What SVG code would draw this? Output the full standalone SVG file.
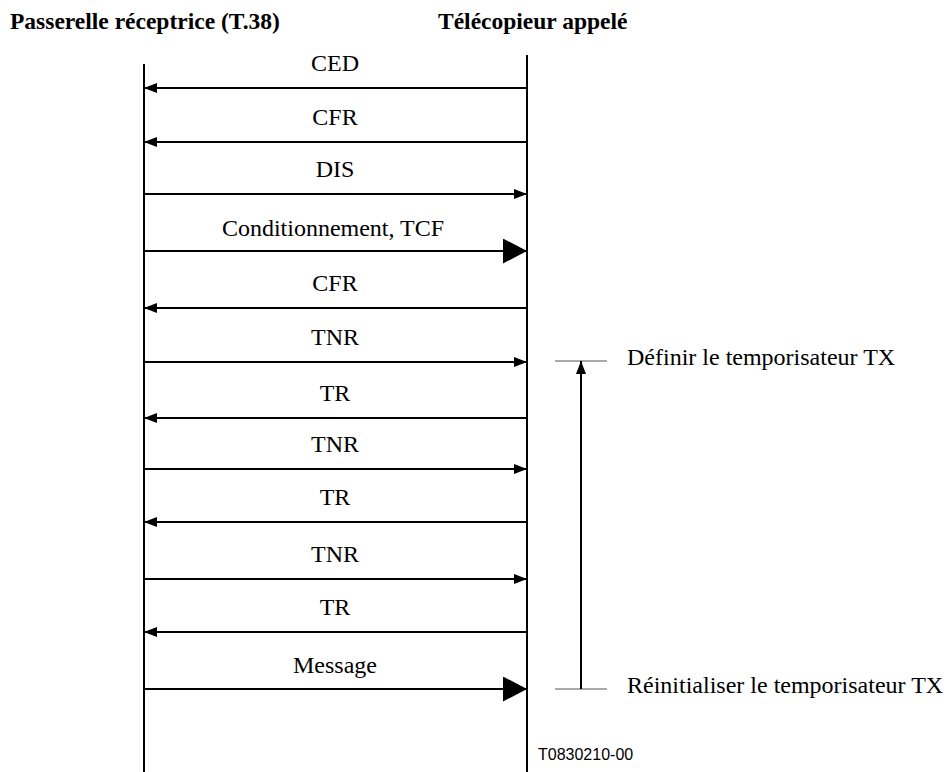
<svg xmlns="http://www.w3.org/2000/svg" width="948" height="772" viewBox="0 0 948 772">
<style>
  .hdr { font-family: "Liberation Serif", "Times New Roman", serif; font-weight: bold; font-size: 23.5px; fill: #000; }
  .lbl { font-family: "Liberation Serif", "Times New Roman", serif; font-size: 24px; fill: #000; text-anchor: middle; }
  .note { font-family: "Liberation Serif", "Times New Roman", serif; font-size: 24px; fill: #000; }
  .ref { font-family: "Liberation Sans", Arial, sans-serif; font-size: 16px; fill: #000; }
  .life { stroke: #000; stroke-width: 2; fill: none; }
  .msg { stroke: #000; stroke-width: 2; fill: none; }
  .tick { stroke: #555; stroke-width: 1.2; fill: none; }
</style>
<defs>
  <marker id="sm" markerUnits="userSpaceOnUse" markerWidth="13" markerHeight="10" refX="13" refY="5" orient="auto">
    <path d="M0,0 L13,5 L0,10 z" fill="#000"/>
  </marker>
  <marker id="big" markerUnits="userSpaceOnUse" markerWidth="24" markerHeight="25" refX="24" refY="12.5" orient="auto">
    <path d="M0,0 L24,12.5 L0,25 z" fill="#000"/>
  </marker>
</defs>
<rect width="948" height="772" fill="#fff"/>
<g id="gateway">
  <text class="hdr" x="10" y="29">Passerelle réceptrice (T.38)</text>
  <line class="life" x1="144" y1="64" x2="144" y2="772"/>
</g>
<g id="fax">
  <text class="hdr" x="438" y="29">Télécopieur appelé</text>
  <line class="life" x1="527" y1="55" x2="527" y2="772"/>
</g>
<g id="connectors">
  <line class="msg" x1="527" y1="88" x2="144" y2="88" marker-end="url(#sm)"/>
  <text class="lbl" x="335" y="71">CED</text>
  <line class="msg" x1="527" y1="142" x2="144" y2="142" marker-end="url(#sm)"/>
  <text class="lbl" x="335" y="125">CFR</text>
  <line class="msg" x1="144" y1="194" x2="527" y2="194" marker-end="url(#sm)"/>
  <text class="lbl" x="335" y="177">DIS</text>
  <line class="msg" x1="144" y1="251" x2="527" y2="251" marker-end="url(#big)"/>
  <text class="lbl" x="333" y="236">Conditionnement, TCF</text>
  <line class="msg" x1="527" y1="308" x2="144" y2="308" marker-end="url(#sm)"/>
  <text class="lbl" x="335" y="291">CFR</text>
  <line class="msg" x1="144" y1="362" x2="527" y2="362" marker-end="url(#sm)"/>
  <text class="lbl" x="335" y="345">TNR</text>
  <line class="msg" x1="527" y1="418" x2="144" y2="418" marker-end="url(#sm)"/>
  <text class="lbl" x="335" y="401">TR</text>
  <line class="msg" x1="144" y1="469" x2="527" y2="469" marker-end="url(#sm)"/>
  <text class="lbl" x="335" y="452">TNR</text>
  <line class="msg" x1="527" y1="522" x2="144" y2="522" marker-end="url(#sm)"/>
  <text class="lbl" x="335" y="505">TR</text>
  <line class="msg" x1="144" y1="579" x2="527" y2="579" marker-end="url(#sm)"/>
  <text class="lbl" x="335" y="562">TNR</text>
  <line class="msg" x1="527" y1="632" x2="144" y2="632" marker-end="url(#sm)"/>
  <text class="lbl" x="335" y="615">TR</text>
  <line class="msg" x1="144" y1="689" x2="527" y2="689" marker-end="url(#big)"/>
  <text class="lbl" x="335" y="673">Message</text>
</g>
<g id="timer">
  <line class="tick" x1="555" y1="361" x2="607" y2="361"/>
  <line class="tick" x1="555" y1="689" x2="607" y2="689"/>
  <line class="msg" x1="581" y1="689" x2="581" y2="361" marker-end="url(#sm)"/>
  <text class="note" x="627" y="365">Définir le temporisateur TX</text>
  <text class="note" x="627" y="693">Réinitialiser le temporisateur TX</text>
</g>
<text class="ref" x="538" y="760">T0830210-00</text>
</svg>
